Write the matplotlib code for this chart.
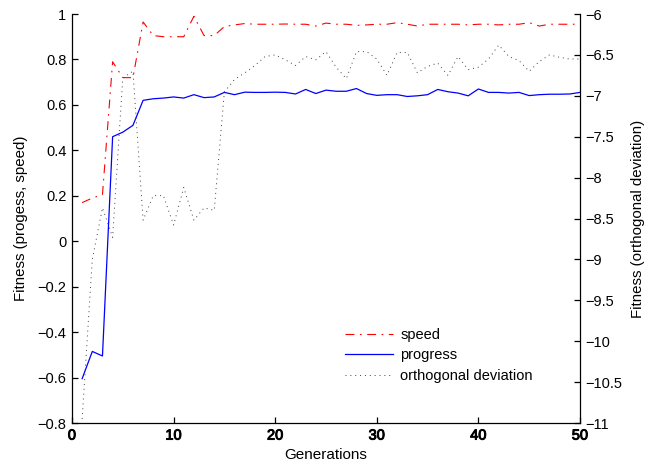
import matplotlib
matplotlib.use('Agg')
import matplotlib.pyplot as plt
import matplotlib.patheffects as pe
from matplotlib.ticker import FuncFormatter

plt.rcParams['font.family'] = ['Liberation Sans', 'DejaVu Sans']

generations = list(range(1, 51))

speed = [0.17, 0.19, 0.205, 0.79, 0.72, 0.72, 0.965, 0.905, 0.90, 0.90,
         0.90, 0.99, 0.905, 0.905, 0.945, 0.952, 0.958, 0.955, 0.955, 0.955,
         0.956, 0.955, 0.955, 0.947, 0.96, 0.955, 0.955, 0.95, 0.952, 0.955,
         0.955, 0.962, 0.955, 0.947, 0.955, 0.955, 0.955, 0.955, 0.952, 0.955,
         0.955, 0.952, 0.955, 0.955, 0.962, 0.947, 0.955, 0.955, 0.955, 0.955]

progress = [-0.605, -0.485, -0.505, 0.46, 0.48, 0.51, 0.62, 0.627, 0.63, 0.635,
            0.63, 0.645, 0.632, 0.635, 0.655, 0.645, 0.656, 0.655, 0.655, 0.656,
            0.655, 0.648, 0.668, 0.65, 0.665, 0.66, 0.66, 0.672, 0.65, 0.642,
            0.645, 0.645, 0.637, 0.64, 0.645, 0.668, 0.658, 0.652, 0.64, 0.67,
            0.655, 0.655, 0.652, 0.655, 0.641, 0.645, 0.647, 0.647, 0.648, 0.655]

orth_dev = [-10.95, -9.0, -8.37, -8.73, -6.78, -6.7, -8.52, -8.22, -8.22, -8.58,
            -8.12, -8.52, -8.37, -8.4, -6.95, -6.8, -6.72, -6.63, -6.52, -6.5,
            -6.56, -6.63, -6.52, -6.56, -6.46, -6.65, -6.79, -6.46, -6.46, -6.55,
            -6.75, -6.47, -6.47, -6.72, -6.64, -6.6, -6.75, -6.52, -6.68, -6.65,
            -6.55, -6.38, -6.52, -6.57, -6.70, -6.58, -6.50, -6.53, -6.55, -6.55]

left_ticks = [-0.8, -0.6, -0.4, -0.2, 0, 0.2, 0.4, 0.6, 0.8, 1]
right_ticks = [-11, -10.5, -10, -9.5, -9, -8.5, -8, -7.5, -7, -6.5, -6]
x_ticks = [0, 10, 20, 30, 40, 50]


def fmt(v, pos):
    return '{:g}'.format(v).replace('-', '\u2212')


fs = 10.5
fig = plt.figure(figsize=(6.45, 4.67), dpi=100)
ax1 = fig.add_axes([0.1116, 0.0942, 0.7876, 0.8758])
ax2 = ax1.twinx()

l_speed, = ax1.plot(generations, speed, color='red', lw=0.8,
                    linestyle=(0, (8, 5, 1.5, 5)), label='speed')
l_prog, = ax1.plot(generations, progress, color='blue', lw=0.9, label='progress')
l_orth, = ax2.plot(generations, orth_dev, color='0.25', lw=0.7,
                   linestyle=(0, (1, 4)), label='orthogonal deviation')

ax1.set_xlim(0, 50)
ax1.set_ylim(-0.8, 1)
ax2.set_ylim(-11, -6)
ax1.set_xticks(x_ticks)
ax1.set_yticks(left_ticks)
ax2.set_yticks(right_ticks)
ax1.yaxis.set_major_formatter(FuncFormatter(fmt))
ax2.yaxis.set_major_formatter(FuncFormatter(fmt))

for ax in (ax1, ax2):
    ax.spines['top'].set_visible(False)
    for s in ax.spines.values():
        s.set_linewidth(0.9)
ax1.spines['right'].set_visible(False)
ax2.spines['left'].set_visible(False)
ax2.spines['bottom'].set_visible(False)

ax1.tick_params(axis='both', direction='in', length=4, width=0.9,
                labelsize=fs, pad=4)
ax2.tick_params(axis='y', direction='in', length=4, width=0.9,
                labelsize=fs, pad=4)
for lab in ax1.get_xticklabels():
    lab.set_path_effects([pe.withStroke(linewidth=0.7, foreground='black')])

ax1.set_xlabel('Generations', fontsize=11, labelpad=4)
ax1.set_ylabel('Fitness (progess, speed)', fontsize=10.8, labelpad=7)
ax2.set_ylabel('Fitness (orthogonal deviation)', fontsize=10.8, labelpad=6)

fig.legend(handles=[l_speed, l_prog, l_orth], loc='upper left',
           bbox_to_anchor=(0.535, 0.298), frameon=False, fontsize=fs,
           handlelength=3.3, handletextpad=0.5, labelspacing=0.45,
           borderpad=0, borderaxespad=0)

fig.savefig('out.png', dpi=100)
